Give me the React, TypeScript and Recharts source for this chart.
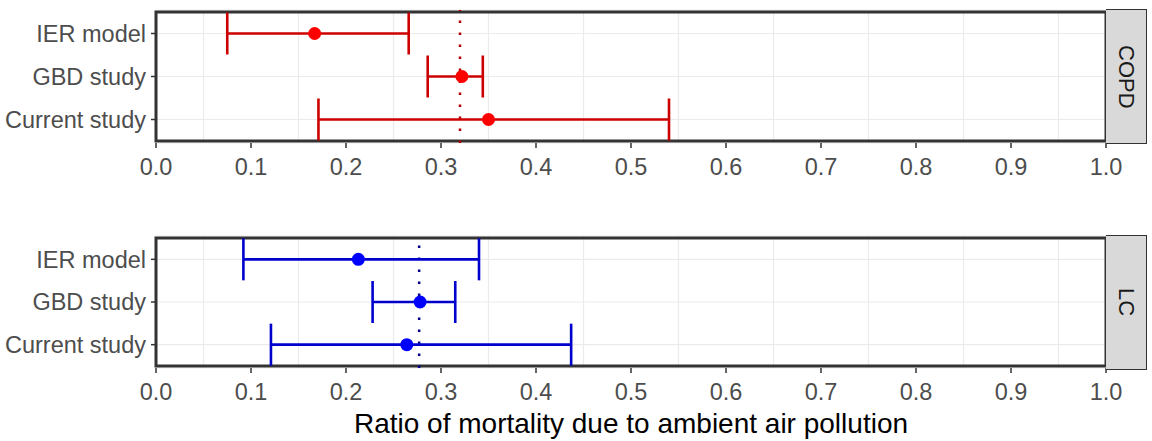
import React from 'react'
import { ScatterChart, Scatter, XAxis, YAxis, CartesianGrid, ErrorBar, ReferenceLine, ReferenceArea } from 'recharts'

const studies = ['IER model', 'GBD study', 'Current study']

const copdMid = [0.167, 0.322, 0.35]
const copdLow = [0.075, 0.286, 0.171]
const copdHigh = [0.266, 0.344, 0.54]
const copdRef = 0.32

const lcMid = [0.213, 0.278, 0.264]
const lcLow = [0.092, 0.228, 0.121]
const lcHigh = [0.34, 0.315, 0.437]
const lcRef = 0.277

const xTicks = [0, 0.1, 0.2, 0.3, 0.4, 0.5, 0.6, 0.7, 0.8, 0.9, 1]
const xMinor = [0.05, 0.15, 0.25, 0.35, 0.45, 0.55, 0.65, 0.75, 0.85, 0.95]

const FONT = '"Liberation Sans", Arial, sans-serif'
const W = 1152

function rows(mid: number[], low: number[], high: number[]) {
  return studies.map((s, i) => ({
    study: s,
    value: mid[i],
    err: [mid[i] - low[i], high[i] - mid[i]],
  }))
}

interface PanelProps {
  data: { study: string; value: number; err: number[] }[]
  refValue: number
  point: string
  bar: string
  dots: string
  strip: string
  height: number
  axisHeight: number
  title?: string
}

function Panel({ data, refValue, point, bar, dots, strip, height, axisHeight, title }: PanelProps) {
  return (
    <div style={{ position: 'relative', width: W, height }}>
      <ScatterChart width={W} height={height} margin={{ top: 10, right: 46, bottom: 0, left: 0 }}>
        <CartesianGrid stroke="#ebebeb" strokeWidth={1.2} verticalValues={[...xTicks, ...xMinor]} />
        <XAxis
          type="number"
          dataKey="value"
          domain={[0, 1]}
          ticks={xTicks}
          tickFormatter={(v: number) => v.toFixed(1)}
          allowDataOverflow
          axisLine={false}
          tickLine={{ stroke: '#333333', strokeWidth: 1.5 }}
          tickSize={5}
          tickMargin={10}
          height={axisHeight}
          tick={{ fill: '#4d4d4d', fontSize: 23.5, fontFamily: FONT }}
          label={title ? { value: title, position: 'insideBottom', offset: 8, fill: '#000000', fontSize: 28, fontFamily: FONT } : undefined}
        />
        <YAxis
          type="category"
          dataKey="study"
          reversed
          width={156}
          padding={{ top: 2, bottom: 2 }}
          axisLine={false}
          tickLine={{ stroke: '#333333', strokeWidth: 1.5 }}
          tickSize={5}
          tickMargin={5}
          tick={{ fill: '#4d4d4d', fontSize: 23.5, fontFamily: FONT }}
        />
        <ReferenceLine x={refValue} stroke={dots} strokeWidth={2.5} strokeDasharray="2.5 9.5" />
        <Scatter
          data={data}
          isAnimationActive={false}
          fill={point}
          shape={(p: any) => <circle cx={p.cx} cy={p.cy} r={6.5} fill={point} />}
        >
          <ErrorBar dataKey="err" direction="x" width={21} stroke={bar} strokeWidth={2.6} isAnimationActive={false} />
        </Scatter>
        <ReferenceArea x1={0} x2={1} fill="none" stroke="#333333" strokeWidth={3} fillOpacity={0} />
      </ScatterChart>
      <div
        style={{
          position: 'absolute',
          left: 1106,
          top: 9,
          width: 41,
          height: 135,
          boxSizing: 'border-box',
          background: '#d9d9d9',
          border: '1px solid #333333',
          borderLeft: 'none',
          display: 'flex',
          alignItems: 'center',
          justifyContent: 'center',
          writingMode: 'vertical-rl',
          fontFamily: FONT,
          fontSize: 22,
          color: '#1a1a1a',
        }}
      >
        {strip}
      </div>
    </div>
  )
}

export default function App() {
  return (
    <div style={{ position: 'absolute', left: 0, top: 0, width: W, height: 441, background: '#ffffff' }}>
      <Panel
        data={rows(copdMid, copdLow, copdHigh)}
        refValue={copdRef}
        point="#ff0000"
        bar="#cd0000"
        dots="#b00000"
        strip="COPD"
        height={226}
        axisHeight={83}
      />
      <Panel
        data={rows(lcMid, lcLow, lcHigh)}
        refValue={lcRef}
        point="#0000ff"
        bar="#0000cd"
        dots="#00008b"
        strip="LC"
        height={215}
        axisHeight={73}
        title="Ratio of mortality due to ambient air pollution"
      />
    </div>
  )
}
